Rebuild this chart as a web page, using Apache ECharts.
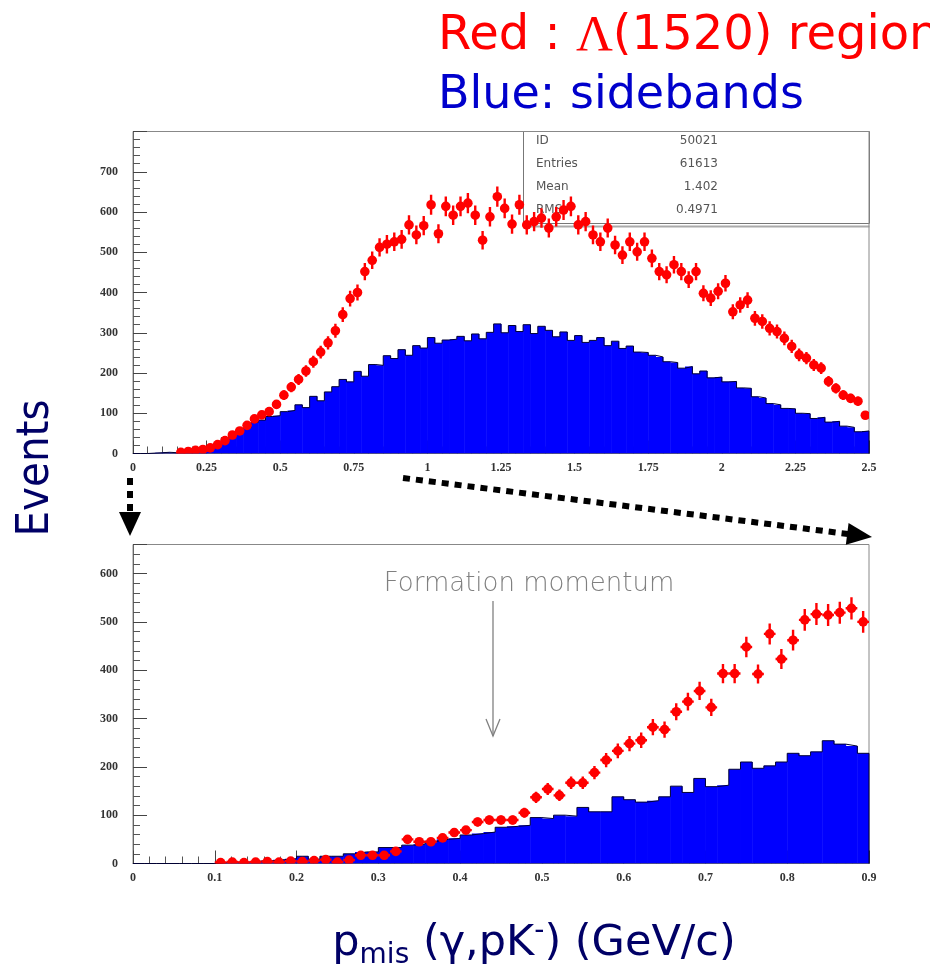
<!DOCTYPE html>
<html>
<head>
<meta charset="utf-8">
<script src="https://cdn.jsdelivr.net/npm/echarts@6/dist/echarts.min.js"></script>
<style>
  html, body { margin: 0; padding: 0; background: #ffffff; }
  #chart { width: 930px; height: 969px; }
</style>
</head>
<body>
<div id="chart"></div>
<script>
// Missing-momentum spectra, p_mis(gamma, pK-), counts per bin.
// Upper panel: 0 - 2.5 GeV/c in 100 bins; lower panel: 0 - 0.9 GeV/c in bins of 1/70 GeV/c.
const topBinWidth = 0.025;
const bottomBinWidth = 1 / 70;

// Lambda(1520) region (red points), upper panel
const topSignal = [
  0, 0, 0, 0, 0, 0, 3, 5, 8, 10,
  14, 22, 32, 46, 56, 70, 86, 96, 104, 122,
  145, 165, 184, 205, 228, 252, 275, 305, 345, 385,
  400, 452, 480, 512, 520, 526, 532, 568, 543, 566,
  618, 546, 614, 592, 614, 622, 592, 530, 588, 638,
  609, 570, 618, 568, 576, 585, 560, 588, 605, 614,
  568, 576, 543, 526, 560, 518, 493, 526, 501, 526,
  485, 452, 444, 469, 452, 432, 452, 398, 386, 403,
  423, 352, 369, 381, 336, 328, 311, 303, 286, 266,
  245, 237, 220, 212, 179, 162, 145, 137, 130, 95
];

// Sidebands (blue histogram), upper panel
const topSideband = [
  0, 0, 1, 2, 3, 2, 6, 7, 12, 13,
  20, 25, 39, 43, 58, 63, 77, 83, 92, 94,
  104, 107, 121, 114, 142, 131, 153, 166, 184, 178,
  204, 192, 221, 219, 243, 236, 258, 244, 268, 262,
  288, 274, 282, 284, 291, 280, 297, 285, 301, 322,
  300, 318, 303, 320, 298, 316, 306, 290, 302, 281,
  293, 276, 281, 288, 268, 279, 261, 267, 252, 251,
  244, 240, 228, 226, 212, 216, 198, 205, 188, 190,
  178, 179, 163, 162, 141, 138, 124, 121, 112, 111,
  100, 99, 87, 90, 78, 80, 68, 65, 54, 56
];

// Lambda(1520) region (red points), lower panel
const bottomSignal = [
  0, 0, 0, 0, 0, 0, 0, 2, 3, 2,
  3, 4, 3, 5, 4, 6, 8, 3, 7, 17,
  17, 17, 25, 50, 45, 45, 53, 64, 69, 86,
  90, 90, 90, 105, 137, 154, 141, 167, 167, 188,
  214, 233, 248, 255, 282, 277, 314, 335, 357, 323,
  393, 393, 448, 392, 475, 423, 462, 504, 516, 514,
  519, 528, 500
];

// Sidebands (blue histogram), lower panel
const bottomSideband = [
  0, 0, 0, 0, 0, 0, 0, 2, 3, 3,
  5, 6, 8, 10, 15, 9, 15, 15, 20, 24,
  24, 33, 33, 38, 40, 46, 50, 52, 59, 62,
  65, 75, 77, 79, 95, 93, 100, 98, 116, 107,
  107, 138, 132, 127, 130, 138, 160, 147, 176, 159,
  162, 195, 210, 197, 202, 210, 228, 223, 231, 254,
  247, 243, 228
];

const statLabels = ['ID', 'Entries', 'Mean', 'RMS'];
const statValues = ['50021', '61613', '1.402', '0.4971'];

// ---- helpers turning bin contents into drawable data ----
function histRects(values, w) {
  return values.map((v, i) => [i * w, (i + 1) * w, v]);
}
function histOutline(values, w) {
  const pts = [[0, 0]];
  values.forEach((v, i) => { pts.push([i * w, v]); pts.push([(i + 1) * w, v]); });
  pts.push([values.length * w, 0]);
  return pts;
}
function histPoints(values, w) {
  const out = [];
  values.forEach((v, i) => { if (v > 0) out.push([(i + 0.5) * w, v, w / 2]); });
  return out;
}

function renderBar(params, api) {
  const p0 = api.coord([api.value(0), api.value(2)]);
  const p1 = api.coord([api.value(1), 0]);
  return {
    type: 'rect',
    shape: { x: p0[0], y: p0[1], width: p1[0] - p0[0] + 0.5, height: p1[1] - p0[1] },
    style: { fill: '#0000ff' }
  };
}

function renderErr(params, api) {
  const x = api.value(0), y = api.value(1), hw = api.value(2);
  const e = Math.sqrt(y);
  const c = api.coord([x, y]);
  const t = api.coord([x, y + e]);
  const b = api.coord([x, Math.max(0, y - e)]);
  const l = api.coord([x - hw, y]);
  const r = api.coord([x + hw, y]);
  const st = { stroke: '#ff0000', lineWidth: 2.4 };
  return {
    type: 'group',
    children: [
      { type: 'line', shape: { x1: c[0], y1: t[1], x2: c[0], y2: b[1] }, style: st },
      { type: 'line', shape: { x1: l[0], y1: c[1], x2: r[0], y2: c[1] }, style: st },
      { type: 'circle', shape: { cx: c[0], cy: c[1], r: 4.8 }, style: { fill: '#ff0000' } }
    ]
  };
}

const labelFont = {
  fontFamily: 'Liberation Serif', fontWeight: 'bold', fontSize: 12, color: '#333'
};

function xAxisCfg(grid, max, interval) {
  return {
    type: 'value', gridIndex: grid, min: 0, max: max, interval: interval,
    axisLine: { show: true, lineStyle: { color: '#666', width: 1 } },
    axisTick: { show: true, inside: true, length: 13, lineStyle: { color: '#444', width: 1 } },
    minorTick: { show: true, splitNumber: 5, length: 7, lineStyle: { color: '#555', width: 1 } },
    splitLine: { show: false },
    minorSplitLine: { show: false },
    axisLabel: Object.assign({ margin: 8, showMaxLabel: true }, labelFont)
  };
}
function yAxisCfg(grid, max) {
  return {
    type: 'value', gridIndex: grid, min: 0, max: max, interval: 100,
    axisLine: { show: true, lineStyle: { color: '#666', width: 1 } },
    axisTick: { show: true, inside: true, length: 14, lineStyle: { color: '#444', width: 1 } },
    minorTick: { show: true, splitNumber: 5, length: 7, lineStyle: { color: '#555', width: 1 } },
    splitLine: { show: false },
    minorSplitLine: { show: false },
    axisLabel: Object.assign({
      margin: 15,
      showMaxLabel: false,
      formatter: v => (v % 100 === 0 ? String(v) : '')
    }, labelFont)
  };
}

// ---- annotation graphics ----
const dashStyle = { stroke: '#000000', lineWidth: 6, lineDash: [7, 6] };

function arrowHead(tipX, tipY, fromX, fromY, len, half) {
  const dx = tipX - fromX, dy = tipY - fromY;
  const d = Math.hypot(dx, dy);
  const ux = dx / d, uy = dy / d;
  const bx = tipX - ux * len, by = tipY - uy * len;
  return [[tipX, tipY], [bx - uy * half, by + ux * half], [bx + uy * half, by - ux * half]];
}

const graphics = [];

// heading
graphics.push({
  type: 'text', left: 438, top: 11,
  style: {
    text: '{a|Red : }{g|Λ}{a|(1520) region}',
    rich: {
      a: { fontFamily: 'DejaVu Sans', fontSize: 48, fill: '#ff0000' },
      g: { fontFamily: 'Liberation Serif', fontSize: 51, fill: '#ff0000' }
    }
  }
});
graphics.push({
  type: 'text', left: 438, top: 73,
  style: { text: 'Blue: sidebands', fontFamily: 'DejaVu Sans', fontSize: 46, fill: '#0000cc' }
});

// vertical axis title
graphics.push({
  type: 'text', x: 37, y: 468, rotation: Math.PI / 2, scaleX: 0.92,
  style: {
    text: 'Events', fontFamily: 'DejaVu Sans', fontSize: 44, fill: '#000066',
    textAlign: 'center', textVerticalAlign: 'middle'
  }
});

// horizontal axis title
graphics.push({
  type: 'text', x: 534, y: 944,
  style: {
    text: '{m|p}{s|mis}{m| (γ,pK}{u|-}{m|) (GeV/c)}',
    textAlign: 'center', textVerticalAlign: 'middle',
    rich: {
      m: { fontFamily: 'DejaVu Sans', fontSize: 43, fill: '#000066', lineHeight: 52, verticalAlign: 'middle' },
      s: { fontFamily: 'DejaVu Sans', fontSize: 28, fill: '#000066', lineHeight: 18, verticalAlign: 'bottom' },
      u: { fontFamily: 'DejaVu Sans', fontSize: 28, fill: '#000066', lineHeight: 20, verticalAlign: 'top' }
    }
  }
});

// statistics box of the upper histogram
graphics.push({
  type: 'rect', z: -1,
  shape: { x: 523.5, y: 131.5, width: 346, height: 92 },
  style: { fill: '#ffffff', stroke: '#777777', lineWidth: 1 }
});
graphics.push({
  type: 'line', z: -1,
  shape: { x1: 523.5, y1: 226.5, x2: 869.5, y2: 226.5 },
  style: { stroke: '#aaaaaa', lineWidth: 2 }
});
statLabels.forEach((s, i) => {
  graphics.push({
    type: 'text', x: 536, y: 141 + i * 23, z: -1,
    style: { text: s, fontFamily: 'DejaVu Sans', fontSize: 12, fill: '#555', textVerticalAlign: 'middle' }
  });
  graphics.push({
    type: 'text', x: 718, y: 141 + i * 23, z: -1,
    style: { text: statValues[i], fontFamily: 'DejaVu Sans', fontSize: 12, fill: '#555',
             textAlign: 'right', textVerticalAlign: 'middle' }
  });
});

// dotted zoom arrows between the panels
graphics.push({ type: 'line', shape: { x1: 130, y1: 478, x2: 130, y2: 514 }, style: dashStyle });
graphics.push({
  type: 'polygon', shape: { points: arrowHead(130, 536, 130, 478, 24, 11) },
  style: { fill: '#000000' }
});
graphics.push({ type: 'line', shape: { x1: 403, y1: 478, x2: 848, y2: 534 }, style: dashStyle });
graphics.push({
  type: 'polygon', shape: { points: arrowHead(872, 537, 403, 478, 25, 11) },
  style: { fill: '#000000' }
});

// "Formation momentum" marker in the lower panel
graphics.push({
  type: 'text', x: 529, y: 584,
  style: { text: 'Formation momentum', fontFamily: 'DejaVu Sans', fontWeight: 300, fontSize: 26,
           fill: '#808080', textAlign: 'center', textVerticalAlign: 'middle' }
});
graphics.push({
  type: 'polyline', shape: { points: [[493, 601], [493, 736]] },
  style: { stroke: '#808080', lineWidth: 1.3 }
});
graphics.push({
  type: 'polyline', shape: { points: [[486, 719], [493, 736], [500, 719]] },
  style: { stroke: '#808080', lineWidth: 1.3, fill: null }
});

const chart = echarts.init(document.getElementById('chart'), null, { renderer: 'canvas' });
chart.setOption({
  backgroundColor: '#ffffff',
  animation: false,
  grid: [
    { left: 133, top: 131.5, width: 736, height: 322, show: true, borderColor: '#888', borderWidth: 1, backgroundColor: 'transparent' },
    { left: 133, top: 544.5, width: 736, height: 319, show: true, borderColor: '#888', borderWidth: 1, backgroundColor: 'transparent' }
  ],
  xAxis: [xAxisCfg(0, 2.5, 0.25), xAxisCfg(1, 0.9, 0.1)],
  yAxis: [yAxisCfg(0, 800), yAxisCfg(1, 660)],
  graphic: { elements: graphics },
  series: [
    { type: 'custom', name: 'sidebands', xAxisIndex: 0, yAxisIndex: 0, clip: true,
      renderItem: renderBar, encode: { x: [0, 1], y: 2 }, data: histRects(topSideband, topBinWidth), z: 2 },
    { type: 'line', xAxisIndex: 0, yAxisIndex: 0, symbol: 'none', silent: true,
      lineStyle: { color: '#000033', width: 1 }, data: histOutline(topSideband, topBinWidth), z: 3 },
    { type: 'custom', name: 'Lambda(1520)', xAxisIndex: 0, yAxisIndex: 0, clip: true,
      renderItem: renderErr, encode: { x: 0, y: 1 }, data: histPoints(topSignal, topBinWidth), z: 4 },

    { type: 'custom', name: 'sidebands', xAxisIndex: 1, yAxisIndex: 1, clip: true,
      renderItem: renderBar, encode: { x: [0, 1], y: 2 }, data: histRects(bottomSideband, bottomBinWidth), z: 2 },
    { type: 'line', xAxisIndex: 1, yAxisIndex: 1, symbol: 'none', silent: true,
      lineStyle: { color: '#000033', width: 1 }, data: histOutline(bottomSideband, bottomBinWidth), z: 3 },
    { type: 'custom', name: 'Lambda(1520)', xAxisIndex: 1, yAxisIndex: 1, clip: true,
      renderItem: renderErr, encode: { x: 0, y: 1 }, data: histPoints(bottomSignal, bottomBinWidth), z: 4 }
  ]
});
</script>
</body>
</html>
